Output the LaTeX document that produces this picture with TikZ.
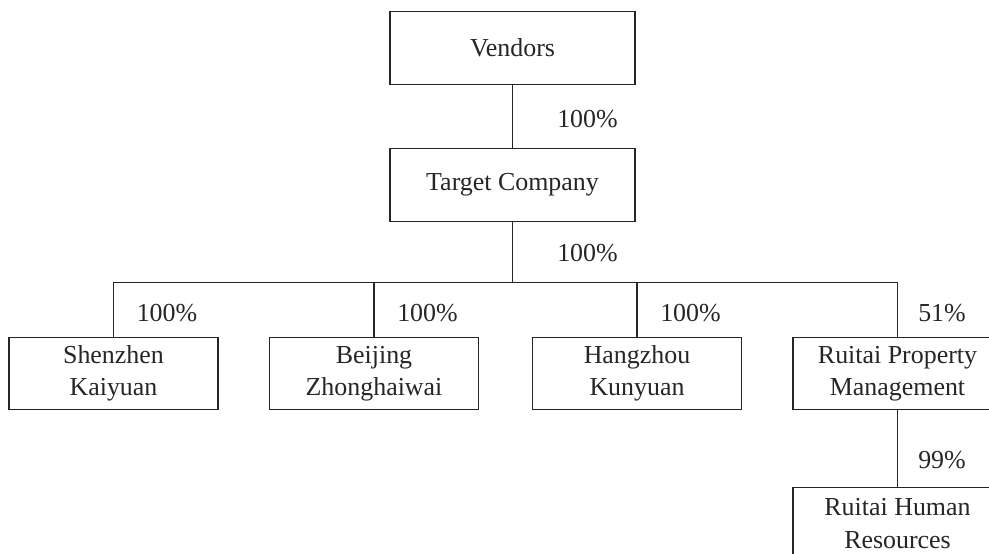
\documentclass[tikz,border=0pt]{standalone}
\usepackage{fontspec}
\setmainfont{Liberation Serif}
\usetikzlibrary{positioning,calc}
\definecolor{ink}{HTML}{262626}
\tikzset{
  orgbox/.style={
    rectangle, draw=ink, line width=0.6pt, fill=white,
    minimum width=#1, minimum height=33.5pt,
    font=\fontsize{12}{15}\selectfont, align=center, text=ink,
    inner sep=2pt
  },
  orgbox/.default=96.8pt,
  pct/.style={font=\fontsize{12}{14}\selectfont, text=ink, inner sep=0pt},
  link/.style={draw=ink, line width=0.6pt},
}

\begin{document}
\begin{tikzpicture}[x=0.463pt, y=-0.463pt]
\useasboundingbox (0,0) rectangle (989,554);
\clip (0,0) rectangle (989,554);
% top of the chart
\node[orgbox=113.4pt] (vend) at (512.5,48) {Vendors};
\node[orgbox=113.4pt] (tc) at (512.5,185) {Target Company};
% subsidiaries
\node[orgbox] (sz) at (113.5,373.5) {Shenzhen\\Kaiyuan};
\node[orgbox] (bj) at (374,373.5) {Beijing\\Zhonghaiwai};
\node[orgbox] (hz) at (637,373.5) {Hangzhou\\Kunyuan};
\node[orgbox] (rp) at (897.5,373.5) {Ruitai Property\\Management};
\node[orgbox] (hr) at (897.5,523.5) {Ruitai Human\\Resources};
\coordinate (bar) at ($(tc.south)+(0,61)$);
% links
\draw[link] (vend) -- (tc);
\draw[link] (tc) -- (bar);
\draw[link] (sz.north) -- (sz.north |- bar) -- (rp.north |- bar) -- (rp.north);
\draw[link] (bj.north |- bar) -- (bj.north);
\draw[link] (hz.north |- bar) -- (hz.north);
\draw[link] (rp) -- (hr);
% share labels
\node[pct] at ($(vend.south)+(75,34)$) {100\%};
\node[pct] at ($(tc.south)+(75,31)$) {100\%};
\node[pct] at ($(sz.north)+(53.5,-24)$) {100\%};
\node[pct] at ($(bj.north)+(53.5,-24)$) {100\%};
\node[pct] at ($(hz.north)+(53.5,-24)$) {100\%};
\node[pct] at ($(rp.north)+(44.5,-24)$) {51\%};
\node[pct] at ($(rp.south)+(44.5,50)$) {99\%};
\end{tikzpicture}
\end{document}
